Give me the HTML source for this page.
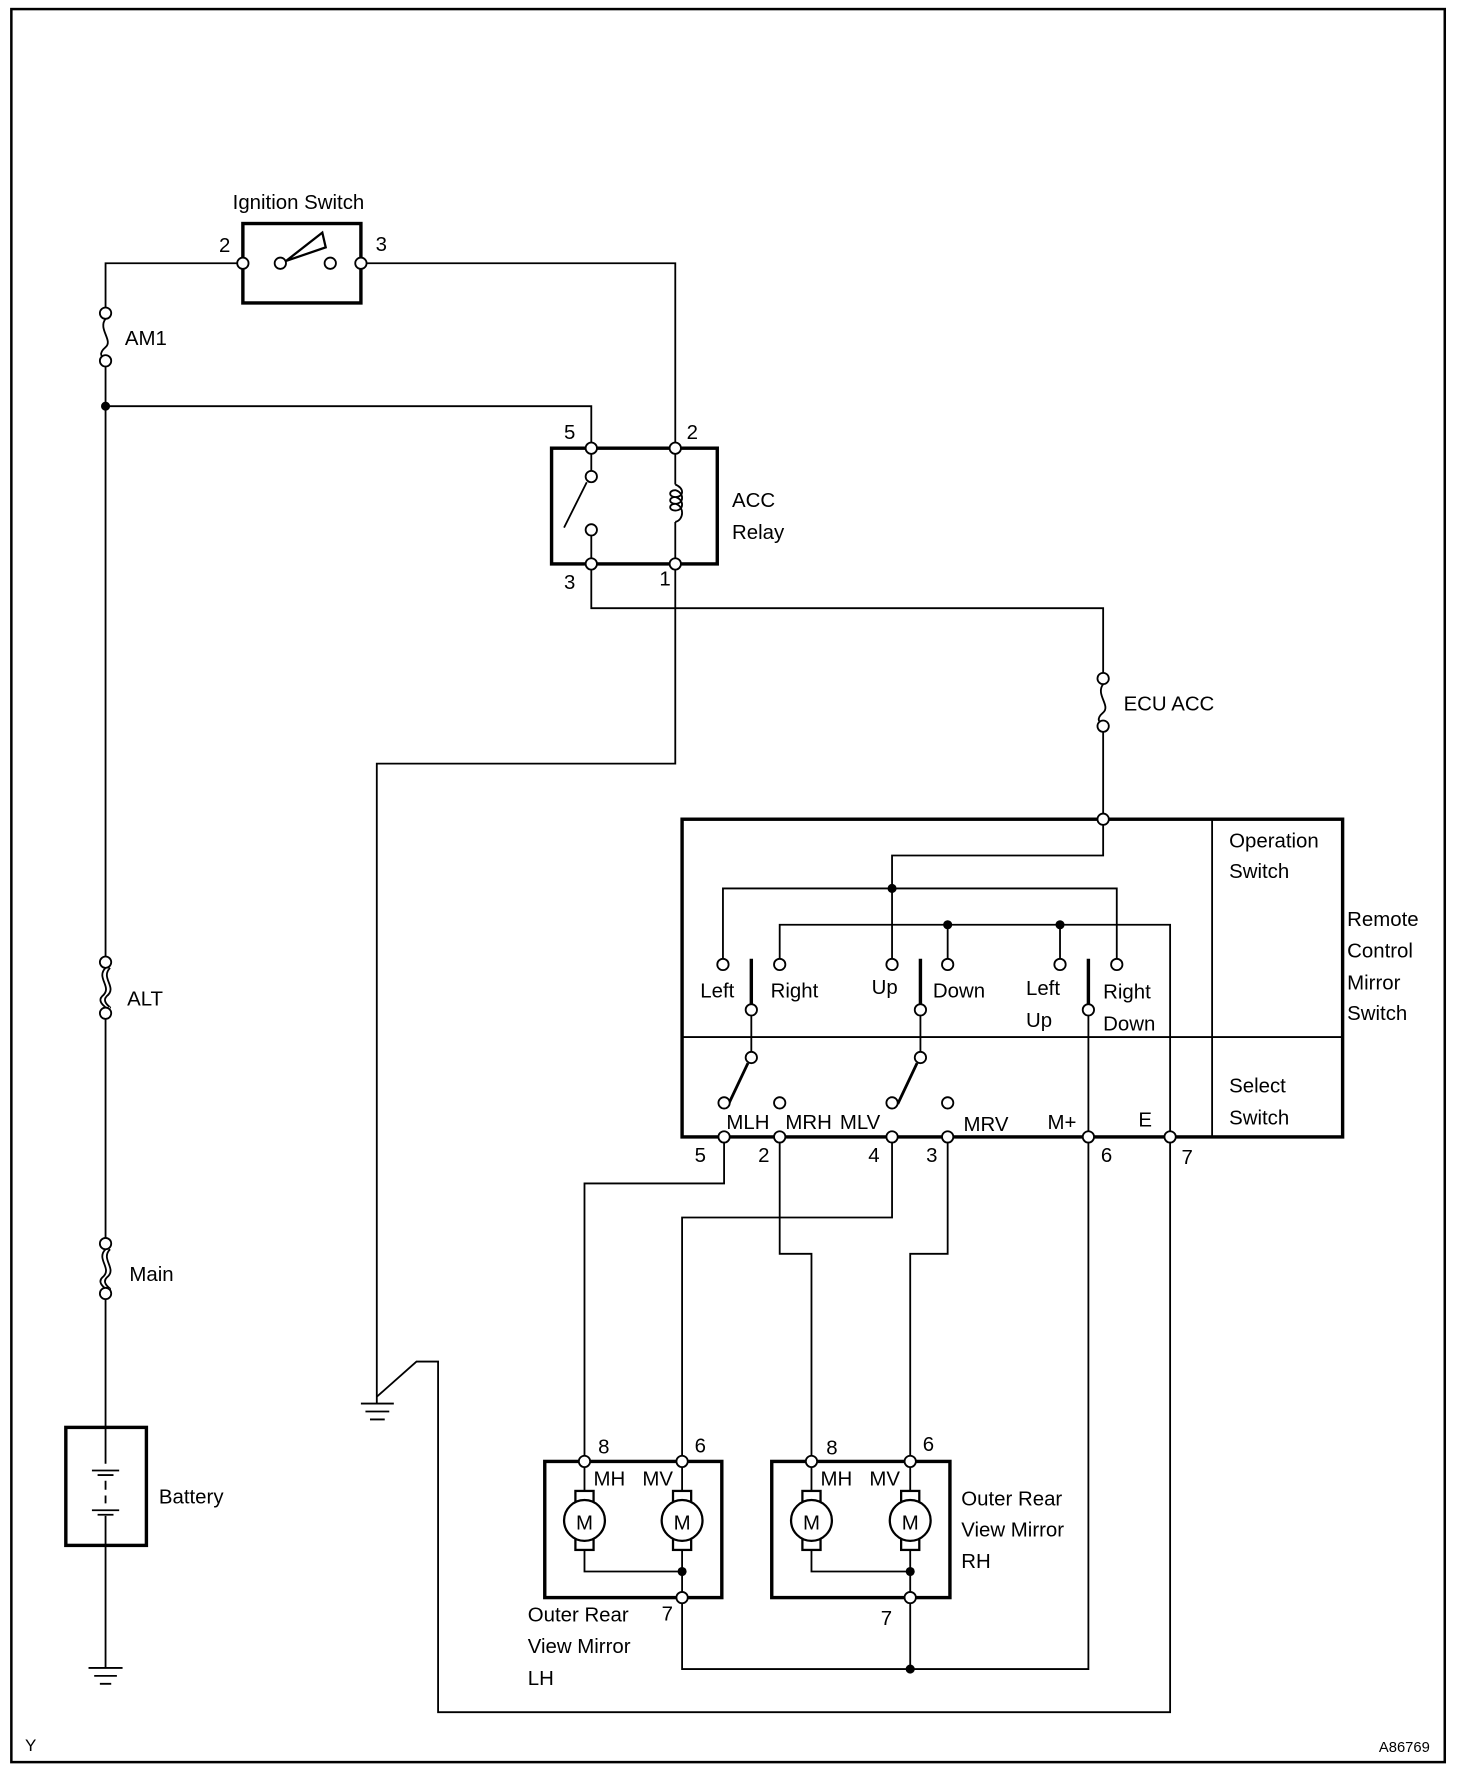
<!DOCTYPE html>
<html><head><meta charset="utf-8"><style>
html,body{margin:0;padding:0;background:#fff}
svg{display:block}
text{font-family:"Liberation Sans",Arial,sans-serif;font-size:18px;fill:#000}
</style></head><body>
<svg width="1472" height="1778" viewBox="0 0 1297 1567" preserveAspectRatio="none" xmlns="http://www.w3.org/2000/svg">
<g fill="none" stroke="#000" stroke-width="1.6">
<rect x="10" y="8" width="1263" height="1545" stroke-width="2.2"/>
<rect x="214" y="197" width="104" height="70" stroke-width="3"/>
<path d="M93 272 V232 H214 M318 232 H595 V395"/>
<path d="M252 230 L284 205 L287 218 Z" stroke-width="2"/>
<path d="M93 323 V848 M93 893 V1096 M93 1140 V1258 M93 1362 V1470"/>
<path d="M93 358 H521 V395"/>
<path d="M93 281 C86 290,100 300,93 306 C86 312,90 316,93 314"/>
<path d="M93 853 C84 862,100 870,90 878 C85 883,94 888,93 888 M97 853 C88 862,104 870,94 878 C89 883,98 888,97 888"/>
<path d="M93 1101 C84 1110,100 1118,90 1126 C85 1131,94 1136,93 1136 M97 1101 C88 1110,104 1118,94 1126 C89 1131,98 1136,97 1136"/>
<path d="M972 603 C965 612,979 622,972 628 C965 634,969 638,972 636"/>
<rect x="486" y="395" width="146" height="102" stroke-width="3"/>
<path d="M521 395 V415 M521 472 V497 M497 465 L517 425" />
<path d="M595 395 V427 M595 460 V497"/>
<path d="M595 427 C603 430,603 438,595 438 C589 438,589 432,595 432 C603 434,603 444,595 444 C589 444,589 438,595 438 C603 440,603 450,595 450 C589 450,589 444,595 444 C603 446,603 458,595 460"/>
<path d="M521 497 V536 H972 V598 M972 640 V722"/>
<path d="M595 497 V673 H332 V1237"/>
<path d="M318 1237 H347 M322 1244 H343 M326 1251 H339"/>
<path d="M332 1231 L367 1200 H386 V1509 H1031 V1002"/>
<rect x="58" y="1258" width="71" height="104" stroke-width="3"/>
<path d="M93 1258 V1290 M81 1296 H105 M86 1300 H100 M93 1305 V1313 M93 1318 V1325 M81 1331 H105 M86 1335 H100 M93 1336 V1362" />
<path d="M78 1470 H108 M83 1477 H103 M88 1484 H98"/>
<rect x="601" y="722" width="582" height="280" stroke-width="3"/>
<path d="M601 914 H1183 M1068 722 V1002"/>
<path d="M972 722 V754 H786 V850 M637 848 V783 H984 V850 M687 848 V815 H1031 V1002 M835 815 V850 M934 815 V850"/>
<path d="M662 845 V885 M811 845 V885 M959 845 V885" stroke-width="3"/>
<path d="M662 890 V932 M811 890 V932 M959 890 V1002"/>
<path d="M659 937 L642 973 M808 937 L791 973" stroke-width="2.5"/>
<path d="M638 1002 V1043 H515 V1288 M786 1002 V1073 H601 V1288 M687 1002 V1105 H715 V1288 M835 1002 V1105 H802 V1288 M959 1002 V1471 H601 V1408 M802 1471 V1408"/>
<rect x="480" y="1288" width="156" height="120" stroke-width="3"/>
<rect x="680" y="1288" width="157" height="120" stroke-width="3"/>
<path d="M515 1288 V1385 H601 M601 1288 V1408 M715 1288 V1385 H802 M802 1288 V1408"/>
</g>
<g stroke="#000" stroke-width="2" fill="#fff">
<rect x="507" y="1314" width="16" height="52"/><circle cx="515" cy="1340" r="18"/>
<rect x="593" y="1314" width="16" height="52"/><circle cx="601" cy="1340" r="18"/>
<rect x="707" y="1314" width="16" height="52"/><circle cx="715" cy="1340" r="18"/>
<rect x="794" y="1314" width="16" height="52"/><circle cx="802" cy="1340" r="18"/>
</g>
<g style="font-size:22px" text-anchor="middle">
<text x="515" y="1348">M</text><text x="601" y="1348">M</text><text x="715" y="1348">M</text><text x="802" y="1348">M</text>
</g>
<g fill="#fff" stroke="#000" stroke-width="1.6">
<circle cx="214" cy="232" r="5"/><circle cx="318" cy="232" r="5"/><circle cx="247" cy="232" r="5"/><circle cx="291" cy="232" r="5"/>
<circle cx="93" cy="276" r="5"/><circle cx="93" cy="318" r="5"/>
<circle cx="93" cy="848" r="5"/><circle cx="93" cy="893" r="5"/>
<circle cx="93" cy="1096" r="5"/><circle cx="93" cy="1140" r="5"/>
<circle cx="972" cy="598" r="5"/><circle cx="972" cy="640" r="5"/>
<circle cx="521" cy="395" r="5"/><circle cx="595" cy="395" r="5"/><circle cx="521" cy="497" r="5"/><circle cx="595" cy="497" r="5"/>
<circle cx="521" cy="420" r="5"/><circle cx="521" cy="467" r="5"/>
<circle cx="972" cy="722" r="5"/>
<circle cx="637" cy="850" r="5"/><circle cx="687" cy="850" r="5"/><circle cx="786" cy="850" r="5"/><circle cx="835" cy="850" r="5"/><circle cx="934" cy="850" r="5"/><circle cx="984" cy="850" r="5"/>
<circle cx="662" cy="890" r="5"/><circle cx="811" cy="890" r="5"/><circle cx="959" cy="890" r="5"/>
<circle cx="662" cy="932" r="5"/><circle cx="811" cy="932" r="5"/>
<circle cx="638" cy="972" r="5"/><circle cx="687" cy="972" r="5"/><circle cx="786" cy="972" r="5"/><circle cx="835" cy="972" r="5"/>
<circle cx="638" cy="1002" r="5"/><circle cx="687" cy="1002" r="5"/><circle cx="786" cy="1002" r="5"/><circle cx="835" cy="1002" r="5"/><circle cx="959" cy="1002" r="5"/><circle cx="1031" cy="1002" r="5"/>
<circle cx="515" cy="1288" r="5"/><circle cx="601" cy="1288" r="5"/><circle cx="715" cy="1288" r="5"/><circle cx="802" cy="1288" r="5"/>
<circle cx="601" cy="1408" r="5"/><circle cx="802" cy="1408" r="5"/>
</g>
<g fill="#000">
<circle cx="93" cy="358" r="4"/><circle cx="786" cy="783" r="4"/><circle cx="835" cy="815" r="4"/><circle cx="934" cy="815" r="4"/>
<circle cx="601" cy="1385" r="4"/><circle cx="802" cy="1385" r="4"/><circle cx="802" cy="1471" r="4"/>
</g>
<g>
<text x="205" y="184">Ignition Switch</text>
<text x="193" y="222">2</text><text x="331" y="221">3</text>
<text x="110" y="304">AM1</text>
<text x="497" y="387">5</text><text x="605" y="387">2</text>
<text x="497" y="519">3</text><text x="581" y="516">1</text>
<text x="645" y="447">ACC</text><text x="645" y="475">Relay</text>
<text x="990" y="626">ECU ACC</text>
<text x="112" y="886">ALT</text>
<text x="114" y="1129">Main</text>
<text x="140" y="1325">Battery</text>
<text x="1083" y="747">Operation</text><text x="1083" y="774">Switch</text>
<text x="1187" y="816">Remote</text><text x="1187" y="844">Control</text><text x="1187" y="872">Mirror</text><text x="1187" y="899">Switch</text>
<text x="1083" y="963">Select</text><text x="1083" y="991">Switch</text>
<text x="617" y="879">Left</text><text x="679" y="879">Right</text><text x="768" y="876">Up</text><text x="822" y="879">Down</text>
<text x="904" y="877">Left</text><text x="904" y="905">Up</text><text x="972" y="880">Right</text><text x="972" y="908">Down</text>
<text x="640" y="995">MLH</text><text x="692" y="995">MRH</text><text x="740" y="995">MLV</text><text x="849" y="997">MRV</text><text x="923" y="995">M+</text><text x="1003" y="993">E</text>
<text x="612" y="1024">5</text><text x="668" y="1024">2</text><text x="765" y="1024">4</text><text x="816" y="1024">3</text><text x="970" y="1024">6</text><text x="1041" y="1026">7</text>
<text x="527" y="1281">8</text><text x="612" y="1280">6</text><text x="728" y="1282">8</text><text x="813" y="1279">6</text>
<text x="523" y="1309">MH</text><text x="566" y="1309">MV</text><text x="723" y="1309">MH</text><text x="766" y="1309">MV</text>
<text x="583" y="1428">7</text><text x="776" y="1432">7</text>
<text x="847" y="1327">Outer Rear</text><text x="847" y="1354">View Mirror</text><text x="847" y="1382">RH</text>
<text x="465" y="1429">Outer Rear</text><text x="465" y="1457">View Mirror</text><text x="465" y="1485">LH</text>
<text x="22" y="1543" style="font-size:15px">Y</text>
<text x="1215" y="1544" style="font-size:13px">A86769</text>
</g>
</svg>
</body></html>
